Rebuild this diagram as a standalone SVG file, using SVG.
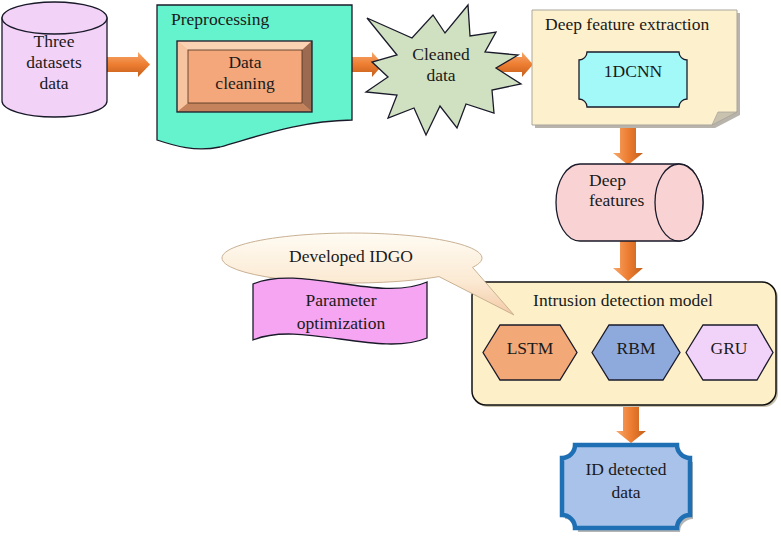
<svg xmlns="http://www.w3.org/2000/svg" width="781" height="550" viewBox="0 0 781 550">
<defs>
<linearGradient id="gh" x1="0" y1="0" x2="0" y2="1">
<stop offset="0" stop-color="#f7a86c"/><stop offset="0.5" stop-color="#ed7d31"/><stop offset="1" stop-color="#c45f1a"/>
</linearGradient>
<linearGradient id="gv" x1="0" y1="0" x2="1" y2="0">
<stop offset="0" stop-color="#f7a86c"/><stop offset="0.5" stop-color="#ed7d31"/><stop offset="1" stop-color="#c45f1a"/>
</linearGradient>
<linearGradient id="gc" x1="0" y1="0" x2="0" y2="1">
<stop offset="0" stop-color="#fffcf4"/><stop offset="0.6" stop-color="#fbe9d2"/><stop offset="1" stop-color="#f3c9a4"/>
</linearGradient>
<style>
.t{font-family:"Liberation Serif","Times New Roman",serif;font-size:17.5px;fill:#1a1a1a}
.m{text-anchor:middle}
.o{stroke:#1a1a2a;stroke-width:1.3}
.ah{fill:url(#gh)}
.av{fill:url(#gv)}
</style>
</defs>

<g id="connectors">
<path class="ah" d="M107,57 H138 V52 L150,64.5 L138,77 V72 H107 Z"/>
<path class="ah" d="M337,57 H372 V52 L383,64.5 L372,77 V72 H337 Z"/>
<path class="ah" d="M488,57 H522 V52 L533,64.5 L522,77 V72 H488 Z"/>
<path class="av" d="M620,125 H636 V153 H643 L628,165 L613,153 H620 Z"/>
<path class="av" d="M620,241 H636 V268 H643 L628,281 L613,268 H620 Z"/>
<path class="av" d="M623,405 H639 V431 H646 L631,443 L616,431 H623 Z"/>
</g>

<g id="three-datasets">
<path class="o" fill="#f2d2f7" d="M2,18 V101 A52.5,16 0 0 0 107,101 V18 Z"/>
<ellipse class="o" fill="#f2d2f7" cx="54.5" cy="18" rx="52.5" ry="16"/>
<text class="t m" x="54" y="47">Three</text>
<text class="t m" x="54" y="68">datasets</text>
<text class="t m" x="54" y="89">data</text>
</g>

<g id="preprocessing">
<path class="o" fill="#64f3cc" d="M157,5 H352 V120 C300,121 262,135 220,147 C195,152 175,146 157,140 Z"/>
<text class="t" x="171" y="25">Preprocessing</text>
</g>

<g id="data-cleaning">
<rect x="177" y="41" width="135" height="71" fill="#f4a77a"/>
<polygon points="177,41 312,41 302,50 188,50" fill="#f9d2b4"/>
<polygon points="177,41 188,50 188,103 177,112" fill="#f7c4a2"/>
<polygon points="312,41 312,112 302,103 302,50" fill="#9c6a50"/>
<polygon points="177,112 312,112 302,103 188,103" fill="#c4835c"/>
<rect x="188" y="50" width="114" height="53" fill="none" stroke="#4a3020" stroke-width="0.8"/>
<rect class="o" x="177" y="41" width="135" height="71" fill="none"/>
<text class="t m" x="245" y="68">Data</text>
<text class="t m" x="245" y="89">cleaning</text>
</g>

<g id="cleaned-data">
<polygon class="o" fill="#d0e1c2" stroke-linejoin="miter" points="367,18 412,38 433,15 445,33 468,5 470,36 496,32 485,52 518,55 496,68 521,84 492,90 494,113 466,104 457,128 440,106 426,135 414,108 388,118 397,95 366,92 388,77 372,62 397,55"/>
<text class="t m" x="441" y="60">Cleaned</text>
<text class="t m" x="441" y="81">data</text>
</g>

<g id="deep-feature-extraction">
<path fill="#b8b4ac" d="M535,13 H740 V115 L715,128 H535 Z"/>
<path fill="#fdf0cd" stroke="#a9a69c" stroke-width="1" d="M532,10 H737 V112 L712,125 H532 Z"/>
<path fill="#c9c2ae" stroke="#a9a69c" stroke-width="0.8" d="M712,125 L718,112 L737,112 Z"/>
<text class="t" x="545" y="30">Deep feature extraction</text>
</g>

<g id="cnn">
<path class="o" fill="#a3f8f8" d="M587,52 H679 A8,8 0 0 0 687,60 V99 A8,8 0 0 0 679,107 H587 A8,8 0 0 0 579,99 V60 A8,8 0 0 0 587,52 Z"/>
<text class="t m" x="633" y="77">1DCNN</text>
</g>

<g id="deep-features">
<path class="o" fill="#f9d3d3" d="M580,164 H679 A24,38.5 0 0 1 679,241 H580 A24,38.5 0 0 1 580,164 Z"/>
<ellipse class="o" fill="#f9d3d3" cx="679" cy="202.5" rx="24" ry="38.5"/>
<text class="t" x="589" y="186">Deep</text>
<text class="t" x="589" y="206">features</text>
</g>

<g id="intrusion-detection-model">
<rect x="474" y="284" width="304" height="123" rx="14" fill="#c9c2b0"/>
<rect x="472" y="282" width="304" height="123" rx="14" fill="#fdf0c9" stroke="#111" stroke-width="1.5"/>
<text class="t m" x="623" y="306">Intrusion detection model</text>
</g>

<g id="developed-idgo">
<path fill="url(#gc)" stroke="#c9b193" stroke-width="1" d="M472.5,267.4 L514,315 L439,276.6 A130,25 0 1 1 472.5,267.4 Z"/>
<text class="t m" x="351" y="262">Developed IDGO</text>
</g>

<g id="parameter-optimization">
<path class="o" fill="#f5a5f1" d="M253,284 C300,264 380,303 427,282 V338 C380,358 300,320 253,340 Z"/>
<text class="t m" x="341" y="306">Parameter</text>
<text class="t m" x="341" y="329">optimization</text>
</g>

<g id="lstm">
<polygon class="o" fill="#f3a877" points="483,352.5 500,325 560,325 577,352.5 560,380 500,380"/>
<text class="t m" x="530" y="354">LSTM</text>
</g>

<g id="rbm">
<polygon class="o" fill="#8eaadd" points="592,352.5 609,325 663,325 680,352.5 663,380 609,380"/>
<text class="t m" x="636" y="354">RBM</text>
</g>

<g id="gru">
<polygon class="o" fill="#f1d3fa" points="686,352.5 703,325 757,325 773,352.5 757,380 703,380"/>
<text class="t m" x="729" y="354">GRU</text>
</g>

<g id="id-detected-data">
<path fill="#b5b5b5" d="M578,449 H680 A13,13 0 0 0 693,462 V519 A13,13 0 0 0 680,532 H578 A13,13 0 0 0 565,519 V462 A13,13 0 0 0 578,449 Z"/>
<path fill="#a9c2ea" stroke="#1f6fb5" stroke-width="4.5" d="M575,445 H677 A13,13 0 0 0 690,458 V515 A13,13 0 0 0 677,528 H575 A13,13 0 0 0 562,515 V458 A13,13 0 0 0 575,445 Z"/>
<text class="t m" x="626" y="475">ID detected</text>
<text class="t m" x="626" y="498">data</text>
</g>
</svg>
